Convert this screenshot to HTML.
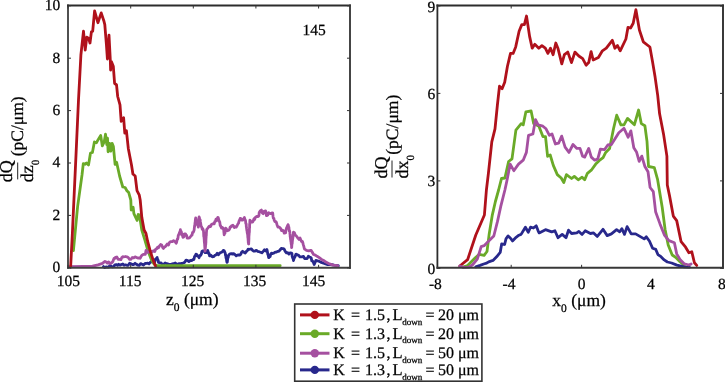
<!DOCTYPE html><html><head><meta charset="utf-8"><style>html,body{margin:0;padding:0;background:#fff;width:725px;height:382px;overflow:hidden}svg{display:block;will-change:transform}text{font-family:"Liberation Serif",serif;fill:#000;stroke:#000;stroke-width:0.25px;text-rendering:geometricPrecision}</style></head><body>
<svg width="725" height="382" viewBox="0 0 725 382">
<path d="M103.5,266.6 L104.8,267.6 L106.0,266.9 L107.3,267.2 L108.6,267.2 L109.8,265.5 L111.1,266.1 L112.4,266.9 L113.7,266.6 L114.9,264.8 L116.2,264.6 L117.5,265.3 L118.7,264.3 L120.0,265.2 L121.4,264.5 L122.8,264.0 L124.1,265.3 L125.5,264.8 L126.9,265.3 L128.2,265.3 L129.6,263.3 L131.0,263.9 L132.4,264.5 L133.8,264.5 L135.1,263.3 L136.5,264.3 L137.9,265.2 L139.2,265.4 L140.6,263.6 L142.0,264.3 L143.5,265.1 L145.1,263.5 L146.6,263.4 L147.8,263.1 L149.0,264.0 L150.2,262.5 L152.1,261.1 L153.9,262.5 L154.7,262.0 L155.5,259.2 L156.3,258.6 L157.1,257.5 L157.4,258.8 L157.8,259.6 L158.2,260.5 L158.5,262.5 L160.0,262.8 L161.1,262.9 L162.3,264.5 L163.4,264.5 L165.1,262.9 L166.8,263.7 L168.5,264.2 L170.2,264.5 L171.9,264.0 L173.6,263.7 L175.3,262.9 L177.0,264.5 L178.7,263.7 L180.4,263.7 L182.1,263.5 L183.8,262.8 L184.9,262.0 L186.1,260.1 L187.2,260.3 L188.9,261.5 L190.6,260.3 L191.9,260.5 L193.2,259.4 L193.9,259.5 L194.6,256.4 L195.2,255.8 L195.9,254.2 L196.6,254.3 L197.4,256.1 L198.3,256.0 L199.1,257.7 L199.7,255.7 L200.2,255.2 L200.8,255.3 L201.4,253.9 L201.9,251.5 L202.5,250.9 L203.8,250.9 L205.1,252.6 L206.4,252.5 L207.7,250.4 L208.2,251.9 L208.6,253.6 L209.1,253.5 L209.6,255.9 L210.9,255.3 L212.3,256.8 L213.5,256.7 L214.8,255.4 L216.0,255.0 L217.2,253.3 L218.5,254.8 L219.7,253.1 L220.9,252.5 L222.1,252.0 L223.3,250.4 L224.2,250.8 L225.2,253.1 L225.5,255.3 L225.7,254.7 L226.0,257.9 L226.2,258.2 L226.5,259.3 L226.7,261.1 L227.0,262.3 L227.3,262.1 L227.6,259.3 L227.9,257.8 L228.2,257.5 L228.5,255.6 L228.8,255.0 L230.0,253.8 L231.3,253.6 L232.5,254.1 L233.7,253.6 L235.0,254.6 L236.2,255.9 L237.4,255.1 L238.6,254.8 L239.8,255.0 L240.7,254.4 L241.7,252.0 L242.6,251.3 L243.9,252.2 L245.3,253.1 L246.2,251.4 L247.2,250.9 L248.1,249.2 L249.0,249.5 L250.2,249.2 L251.4,248.9 L252.6,250.4 L253.9,251.2 L255.1,251.0 L256.4,250.3 L257.7,251.3 L259.1,251.7 L260.5,252.2 L261.9,252.8 L263.2,251.3 L264.4,249.8 L265.7,250.9 L266.9,249.5 L267.2,250.7 L267.5,252.2 L267.8,254.4 L268.1,254.7 L268.4,256.3 L268.7,257.7 L269.4,257.0 L270.1,256.6 L270.8,253.9 L271.5,253.1 L272.7,253.6 L274.0,253.0 L275.2,252.2 L276.4,252.2 L277.6,251.4 L278.8,251.3 L280.0,250.0 L281.3,248.4 L282.5,248.6 L283.4,248.6 L284.3,249.4 L285.2,251.3 L286.4,252.8 L287.7,252.6 L288.9,254.1 L290.2,252.8 L291.6,253.1 L291.9,253.3 L292.2,256.4 L292.6,257.7 L292.9,258.4 L293.2,258.7 L293.5,260.5 L294.0,258.6 L294.6,257.4 L295.1,256.6 L295.7,254.6 L296.2,254.1 L297.4,254.9 L298.7,255.3 L299.9,256.8 L301.8,256.8 L303.5,256.3 L304.7,258.6 L305.9,258.6 L307.1,258.6 L308.3,256.3 L309.5,257.0 L310.6,257.4 L311.2,258.0 L311.8,260.9 L312.4,261.0 L313.0,261.7 L313.6,263.0 L314.2,264.5 L315.9,260.4 L318.3,261.0 L320.6,262.1 L323.6,263.3 L327.1,264.5 L330.7,264.5 L334.2,265.1 L338.3,265.7" stroke="#28288c" stroke-width="2.8" fill="none" stroke-linejoin="round" stroke-linecap="round"/>
<path d="M73.4,250.5 L77.6,206.6 L82.0,175.0 L83.3,163.6 L85.2,164.3 L86.5,163.0 L88.5,164.9 L90.5,153.1 L92.4,152.5 L94.4,142.0 L96.4,142.7 L98.3,139.4 L100.7,135.5 L102.3,145.9 L104.2,142.0 L105.5,134.2 L106.8,144.6 L107.5,138.1 L108.1,151.8 L109.5,143.3 L110.8,151.2 L112.1,143.3 L113.4,146.6 L115.1,164.3 L116.6,162.3 L119.6,176.0 L122.8,187.0 L125.1,187.5 L126.9,190.7 L128.7,192.5 L129.7,196.2 L130.8,200.0 L131.2,210.0 L133.1,207.1 L133.9,213.7 L137.1,220.4 L138.2,214.5 L139.4,214.9 L141.8,230.0 L144.9,240.1 L148.2,251.6 L151.5,259.9 L154.2,264.3 L157.0,265.7 L280.2,265.7" stroke="#6aaa28" stroke-width="2.8" fill="none" stroke-linejoin="round" stroke-linecap="round"/>
<path d="M70.0,266.7 L83.3,266.4 L92.5,266.2 L98.0,264.8 L102.5,263.4 L103.7,262.4 L105.0,261.4 L106.2,262.0 L107.4,263.1 L108.7,261.9 L109.9,263.8 L111.2,263.0 L112.6,262.0 L113.3,260.4 L114.0,258.4 L114.7,258.6 L115.4,257.4 L116.8,257.0 L118.1,259.3 L119.5,259.3 L120.9,259.7 L121.8,257.5 L122.7,256.7 L123.6,257.0 L125.5,256.5 L126.8,256.8 L128.2,257.5 L129.6,259.4 L131.0,259.3 L132.3,257.5 L133.7,257.9 L135.1,256.9 L136.5,257.5 L137.8,258.1 L139.2,257.9 L140.1,258.3 L141.1,256.3 L142.0,255.2 L143.3,254.4 L144.7,254.2 L145.3,254.4 L146.0,250.4 L146.6,250.6 L147.9,252.4 L149.3,252.0 L150.7,251.4 L152.1,252.0 L153.4,250.7 L154.8,251.5 L155.8,249.0 L156.7,248.7 L157.6,247.2 L158.5,247.8 L159.4,246.0 L160.6,244.5 L161.7,245.0 L162.3,246.4 L162.8,247.7 L163.4,248.4 L164.3,247.2 L165.1,246.8 L166.0,245.8 L167.2,244.1 L168.5,245.0 L169.4,242.5 L170.2,241.9 L171.1,241.6 L172.3,241.7 L173.6,240.7 L174.5,241.3 L175.3,241.9 L176.2,243.3 L176.6,242.3 L176.9,240.7 L177.3,239.1 L177.6,239.3 L178.0,237.8 L178.3,235.2 L178.7,234.8 L179.1,233.7 L179.6,232.3 L180.0,232.1 L180.4,229.7 L180.8,231.7 L181.3,231.6 L181.7,234.9 L182.1,233.6 L182.6,235.8 L183.0,237.3 L183.8,236.9 L184.7,234.0 L185.5,233.9 L186.1,235.3 L186.6,235.4 L187.2,238.2 L188.3,238.1 L189.5,237.9 L190.6,236.5 L191.3,235.5 L192.0,235.2 L192.6,232.3 L193.3,232.3 L194.0,230.5 L194.2,229.5 L194.3,228.2 L194.5,226.6 L194.7,226.4 L194.8,225.5 L195.0,222.8 L195.2,222.1 L195.4,219.0 L195.5,219.7 L195.7,217.8 L196.0,219.4 L196.3,221.6 L196.7,222.3 L197.0,221.8 L197.3,223.3 L197.7,225.3 L198.0,224.5 L198.3,227.1 L198.4,225.7 L198.5,223.6 L198.6,222.1 L198.7,220.7 L198.8,221.5 L198.9,218.3 L199.0,217.4 L199.1,216.9 L199.4,217.8 L199.8,220.6 L200.1,219.5 L200.4,221.8 L200.7,223.4 L201.0,225.7 L201.4,226.8 L201.7,227.1 L202.3,229.3 L202.8,228.7 L203.4,230.5 L203.5,231.4 L203.6,232.5 L203.7,235.3 L203.8,236.7 L203.9,235.5 L204.0,236.7 L204.1,238.1 L204.2,239.3 L204.3,241.3 L204.4,242.8 L204.5,243.0 L204.6,243.4 L204.7,245.9 L204.8,246.9 L204.9,248.7 L205.0,251.1 L205.1,250.9 L205.2,250.3 L205.3,248.5 L205.4,247.7 L205.5,246.6 L205.6,243.6 L205.7,244.9 L205.8,243.3 L205.9,242.4 L205.9,241.0 L206.0,238.6 L206.1,237.4 L206.2,235.3 L206.3,235.7 L206.4,232.8 L206.5,231.6 L206.6,230.8 L206.7,229.5 L206.8,229.3 L208.0,227.9 L209.3,226.2 L210.5,226.6 L211.7,224.2 L213.0,223.7 L214.2,223.8 L214.8,221.5 L215.4,221.3 L216.0,219.2 L216.6,220.7 L217.2,218.8 L217.8,217.4 L218.2,217.5 L218.6,219.0 L219.0,220.5 L219.4,221.7 L219.8,222.2 L220.2,225.6 L220.6,225.7 L221.5,228.1 L222.4,227.4 L223.3,228.4 L223.5,229.6 L223.7,229.7 L223.8,231.0 L224.0,233.0 L224.2,234.8 L224.6,232.8 L225.0,233.2 L225.3,229.9 L225.7,228.2 L226.1,228.4 L227.4,230.7 L228.8,230.2 L229.5,229.2 L230.2,226.9 L230.9,227.0 L231.6,225.7 L232.9,225.2 L234.3,227.5 L235.2,226.7 L236.2,227.1 L237.1,225.8 L238.0,223.8 L238.5,223.3 L239.1,220.9 L239.6,220.1 L240.2,218.4 L240.7,218.3 L241.6,220.1 L242.6,220.2 L243.5,218.9 L244.4,217.4 L244.8,219.5 L245.1,219.4 L245.5,220.4 L245.8,223.5 L246.2,223.8 L246.3,226.5 L246.5,227.4 L246.6,228.5 L246.8,229.8 L246.9,230.8 L247.1,230.6 L247.2,232.7 L247.4,233.5 L247.5,233.7 L247.7,235.0 L247.8,237.0 L248.0,238.2 L248.2,240.8 L248.3,242.8 L248.4,242.6 L248.6,244.0 L248.7,244.1 L248.7,243.0 L248.8,241.6 L248.9,238.6 L248.9,236.9 L249.0,235.7 L249.1,234.3 L249.1,233.1 L249.2,233.1 L249.3,232.7 L249.4,231.2 L249.4,228.9 L249.5,228.2 L249.6,227.4 L249.6,224.0 L249.7,224.4 L249.8,223.9 L249.8,222.3 L249.9,220.2 L251.2,221.9 L252.6,222.0 L253.3,220.8 L254.0,218.7 L254.7,219.4 L255.4,217.4 L256.8,216.4 L258.1,216.5 L258.5,216.3 L258.9,215.6 L259.2,212.7 L259.6,211.9 L260.5,210.7 L261.4,210.1 L262.0,212.6 L262.6,213.2 L263.2,213.7 L264.1,211.4 L265.1,211.0 L265.6,211.0 L266.0,212.3 L266.4,215.7 L266.9,215.6 L267.8,215.1 L268.7,212.8 L270.6,213.7 L272.4,212.8 L272.7,213.0 L273.0,216.2 L273.3,217.9 L273.6,218.2 L273.9,218.5 L274.2,220.2 L274.9,221.5 L275.6,221.3 L276.3,222.1 L277.0,224.7 L277.9,227.0 L278.8,227.0 L279.7,227.5 L280.6,228.5 L281.6,230.6 L282.5,230.2 L283.4,230.9 L284.3,233.2 L285.2,233.0 L285.6,232.8 L286.0,229.8 L286.4,228.7 L286.8,227.6 L287.2,226.3 L287.6,226.1 L288.0,224.7 L288.3,225.2 L288.6,226.9 L288.9,227.3 L289.2,230.9 L289.5,230.4 L289.8,232.1 L289.9,233.2 L290.1,234.7 L290.2,236.9 L290.4,236.6 L290.5,239.3 L290.6,239.3 L290.8,240.5 L290.9,241.7 L291.0,241.4 L291.2,243.8 L291.3,244.3 L291.5,244.9 L291.6,247.6 L291.7,247.3 L291.9,244.2 L292.0,243.9 L292.2,243.5 L292.3,241.8 L292.5,239.9 L292.6,239.3 L292.8,238.2 L292.9,237.7 L293.1,234.5 L293.2,234.7 L293.4,232.5 L293.5,232.1 L294.4,232.6 L295.3,235.3 L296.2,235.7 L297.1,237.0 L298.1,238.4 L299.0,239.4 L300.0,238.0 L300.8,239.9 L301.6,241.6 L302.4,241.5 L302.8,242.6 L303.2,244.4 L303.5,245.4 L303.9,246.7 L304.3,248.5 L304.7,249.2 L306.5,250.4 L308.8,250.9 L310.0,250.5 L311.2,250.4 L312.0,251.9 L312.8,253.1 L313.6,254.5 L315.3,255.1 L317.1,256.3 L318.9,257.4 L321.2,259.2 L323.6,260.4 L325.9,262.1 L329.5,263.9 L333.0,265.1 L337.7,265.7" stroke="#a550a0" stroke-width="2.8" fill="none" stroke-linejoin="round" stroke-linecap="round"/>
<path d="M70.6,267.3 L72.3,235.0 L76.0,155.0 L78.5,100.0 L80.9,55.0 L83.5,31.2 L85.2,50.2 L86.8,37.1 L88.7,38.4 L90.0,43.0 L91.4,31.8 L92.7,31.2 L94.6,10.9 L97.9,22.7 L101.2,12.9 L103.8,20.7 L104.8,24.6 L106.4,44.3 L107.4,59.0 L109.0,35.1 L110.3,60.0 L110.6,70.0 L111.4,61.6 L113.3,66.2 L114.6,83.5 L116.5,84.7 L117.7,96.5 L120.0,104.8 L121.2,121.3 L123.6,117.7 L124.8,133.1 L126.4,130.7 L128.3,148.4 L131.5,165.0 L132.9,174.0 L135.2,176.0 L137.0,190.7 L139.3,195.2 L140.2,200.0 L141.8,217.3 L144.1,230.0 L146.0,233.5 L147.6,241.2 L150.4,251.6 L153.1,259.9 L154.8,264.3 L155.5,266.0" stroke="#b0111b" stroke-width="2.8" fill="none" stroke-linejoin="round" stroke-linecap="round"/>
<path d="M459.8,266.0 L467.6,259.7 L475.8,235.0 L484.4,215.0 L486.4,190.0 L488.4,173.3 L491.8,141.9 L495.0,128.8 L497.4,105.0 L499.5,86.2 L502.1,88.8 L504.7,82.2 L507.4,66.5 L510.5,53.4 L513.1,53.4 L515.7,46.9 L519.1,31.2 L521.8,24.6 L524.4,24.6 L526.5,16.0 L529.6,36.4 L532.2,48.2 L534.8,44.3 L538.8,48.2 L541.9,45.6 L545.3,48.2 L547.9,53.4 L550.5,48.2 L553.1,54.7 L555.8,43.0 L557.9,48.2 L561.8,63.9 L564.4,54.7 L567.8,52.1 L571.5,62.6 L574.9,52.1 L578.8,56.0 L582.7,58.7 L586.1,65.2 L588.7,62.6 L591.1,51.6 L593.2,60.0 L598.4,57.4 L602.4,50.8 L606.3,48.2 L612.3,40.3 L614.9,48.2 L617.5,45.6 L620.2,50.8 L625.9,39.0 L628.0,27.3 L630.6,28.0 L633.2,23.3 L635.9,9.7 L639.4,30.0 L643.3,41.8 L649.9,47.0 L652.5,61.4 L655.1,77.1 L657.7,95.4 L659.6,113.8 L663.7,135.1 L666.9,156.1 L667.3,185.0 L669.6,196.1 L673.3,216.1 L676.7,220.6 L681.1,241.7 L685.6,247.2 L688.9,252.8 L691.8,251.7 L694.4,262.8 L696.7,265.4" stroke="#b0111b" stroke-width="2.8" fill="none" stroke-linejoin="round" stroke-linecap="round"/>
<path d="M463.0,267.0 L467.6,265.5 L475.3,257.8 L479.2,254.4 L484.1,255.3 L487.0,251.5 L489.2,233.9 L492.3,215.1 L495.4,201.5 L498.6,190.0 L501.5,178.5 L504.9,178.0 L508.6,161.5 L512.0,158.9 L515.9,130.1 L521.2,123.6 L523.2,124.9 L525.9,111.8 L531.1,111.0 L533.7,123.6 L538.9,126.2 L542.9,136.6 L545.5,136.6 L547.6,156.3 L550.2,155.0 L553.3,165.4 L557.3,174.6 L561.2,178.0 L563.8,182.5 L566.4,174.6 L571.6,178.5 L574.3,176.4 L578.2,179.8 L582.1,177.2 L584.7,179.8 L587.4,173.3 L591.3,170.2 L595.7,164.1 L599.1,160.7 L603.1,157.6 L605.7,152.4 L609.6,148.4 L613.5,128.8 L616.7,115.2 L620.9,124.9 L624.0,124.9 L627.5,118.4 L634.4,124.7 L638.6,110.0 L641.3,123.6 L644.9,125.7 L647.0,141.4 L648.5,166.5 L654.3,167.6 L657.5,179.1 L662.2,207.2 L665.1,229.4 L668.2,245.0 L672.2,255.0 L675.6,257.2 L680.0,261.7 L684.4,265.4" stroke="#6aaa28" stroke-width="2.8" fill="none" stroke-linejoin="round" stroke-linecap="round"/>
<path d="M475.8,266.8 L480.1,265.4 L483.7,264.0 L486.6,263.2 L488.7,261.8 L493.0,260.4 L496.6,256.8 L500.2,252.4 L501.7,243.8 L504.6,244.5 L506.0,238.8 L508.1,235.9 L510.3,238.0 L512.5,240.9 L516.1,237.3 L518.9,235.2 L521.1,234.4 L525.4,227.2 L528.3,232.3 L530.5,227.2 L533.4,228.0 L536.2,225.8 L538.4,231.6 L539.2,232.9 L545.5,229.7 L551.7,231.8 L554.9,230.8 L558.0,237.7 L562.2,234.4 L566.0,237.7 L568.5,230.2 L571.6,233.5 L576.8,232.9 L578.9,231.4 L582.1,234.4 L585.2,230.8 L590.4,233.5 L593.6,232.9 L597.3,236.4 L603.0,229.3 L607.2,235.6 L611.4,233.9 L616.6,229.7 L619.7,231.8 L621.8,228.7 L624.5,234.4 L627.1,226.6 L631.2,233.9 L635.6,233.9 L644.2,238.9 L646.3,236.8 L649.4,241.0 L652.6,248.3 L655.8,249.4 L657.9,254.6 L661.0,256.7 L664.2,259.9 L667.4,262.0 L671.6,263.0 L676.9,265.1 L684.2,266.8 L689.4,267.2" stroke="#28288c" stroke-width="2.8" fill="none" stroke-linejoin="round" stroke-linecap="round"/>
<path d="M459.8,266.0 L463.7,267.4 L468.6,267.2 L472.4,265.0 L477.3,259.2 L481.2,246.6 L484.1,245.7 L488.0,241.8 L493.8,236.0 L497.5,221.4 L500.7,206.7 L504.9,190.0 L506.8,181.2 L510.2,164.1 L513.8,170.7 L518.5,164.1 L523.2,160.2 L526.4,152.4 L528.5,135.3 L532.9,134.0 L535.5,119.6 L538.1,124.9 L542.9,126.2 L546.0,128.8 L549.4,135.3 L552.0,134.0 L555.4,144.0 L558.6,143.2 L561.7,136.1 L565.1,147.1 L569.0,152.4 L573.0,144.5 L576.9,148.4 L580.0,148.4 L582.6,156.3 L584.7,157.1 L588.7,148.4 L591.3,157.1 L594.7,160.2 L597.8,158.9 L600.4,149.2 L604.4,149.7 L607.8,145.0 L611.4,144.5 L618.8,132.7 L624.0,128.3 L628.1,137.2 L630.9,130.9 L633.8,147.7 L636.5,151.9 L639.2,161.3 L641.8,156.1 L644.9,166.5 L648.0,171.8 L650.1,187.5 L653.3,191.7 L655.6,211.7 L660.0,223.9 L664.4,235.0 L668.9,240.6 L674.4,242.8 L676.7,253.9 L680.0,259.4 L684.4,263.9 L688.9,265.0 L691.1,263.9" stroke="#a550a0" stroke-width="2.8" fill="none" stroke-linejoin="round" stroke-linecap="round"/>
<line x1="68" y1="5.5" x2="68" y2="267.8" stroke="#484848" stroke-width="1.9" stroke-linecap="square"/>
<line x1="68" y1="5.5" x2="350" y2="5.5" stroke="#2c2c2c" stroke-width="1.9" stroke-linecap="square"/>
<line x1="350" y1="5.5" x2="350" y2="267.8" stroke="#3c3c3c" stroke-width="1.9" stroke-linecap="square"/>
<line x1="68" y1="267.8" x2="350" y2="267.8" stroke="#404040" stroke-width="1.9" stroke-linecap="square"/>
<line x1="437.4" y1="5.5" x2="437.4" y2="267.8" stroke="#2c2c2c" stroke-width="1.8" stroke-linecap="square"/>
<line x1="437.4" y1="5.5" x2="723" y2="5.5" stroke="#2c2c2c" stroke-width="1.9" stroke-linecap="square"/>
<line x1="723" y1="5.5" x2="723" y2="267.8" stroke="#303030" stroke-width="1.9" stroke-linecap="square"/>
<line x1="437.4" y1="267.8" x2="723" y2="267.8" stroke="#383838" stroke-width="1.9" stroke-linecap="square"/>
<path d="M68.0,267.8v-3M68.0,5.5v3M130.7,267.8v-3M130.7,5.5v3M193.3,267.8v-3M193.3,5.5v3M255.9,267.8v-3M255.9,5.5v3M318.6,267.8v-3M318.6,5.5v3M68,267.8h3M350,267.8h-3M68,215.4h3M350,215.4h-3M68,163.0h3M350,163.0h-3M68,110.6h3M350,110.6h-3M68,58.2h3M350,58.2h-3M68,5.8h3M350,5.8h-3M511.2,267.8v-3M511.2,5.5v3M581.6,267.8v-3M581.6,5.5v3M437.4,268.3h3M723,268.3h-3M437.4,180.9h3M723,180.9h-3M437.4,93.4h3M723,93.4h-3M437.4,6.0h3M723,6.0h-3" stroke="#333" stroke-width="1" fill="none"/>
<text x="60.3" y="272.2" font-size="15.5" text-anchor="end">0</text>
<text x="60.3" y="219.8" font-size="15.5" text-anchor="end">2</text>
<text x="60.3" y="167.4" font-size="15.5" text-anchor="end">4</text>
<text x="60.3" y="115.0" font-size="15.5" text-anchor="end">6</text>
<text x="60.3" y="62.6" font-size="15.5" text-anchor="end">8</text>
<text x="60.3" y="10.2" font-size="15.5" text-anchor="end">10</text>
<text x="68.3" y="285.7" font-size="15.5" text-anchor="middle">105</text>
<text x="130.2" y="285.7" font-size="15.5" text-anchor="middle">115</text>
<text x="192.6" y="285.7" font-size="15.5" text-anchor="middle">125</text>
<text x="254.7" y="285.7" font-size="15.5" text-anchor="middle">135</text>
<text x="313.7" y="285.7" font-size="15.5" text-anchor="middle">145</text>
<text x="435.2" y="273.7" font-size="15.5" text-anchor="end">0</text>
<text x="435.2" y="186.3" font-size="15.5" text-anchor="end">3</text>
<text x="435.2" y="98.9" font-size="15.5" text-anchor="end">6</text>
<text x="435.2" y="11.5" font-size="15.5" text-anchor="end">9</text>
<text x="435.4" y="288.8" font-size="15.5" text-anchor="middle">-8</text>
<text x="509" y="288.8" font-size="15.5" text-anchor="middle">-4</text>
<text x="581.5" y="288.8" font-size="15.5" text-anchor="middle">0</text>
<text x="650.9" y="288.8" font-size="15.5" text-anchor="middle">4</text>
<text x="721.9" y="288.8" font-size="15.5" text-anchor="middle">8</text>
<text x="302.6" y="34.8" font-size="15.5">145</text>
<text x="166" y="304.5" font-size="17.5">z<tspan font-size="11.5" dy="6">0</tspan><tspan dy="-6"> (μm)</tspan></text>
<text x="552.3" y="305.9" font-size="17.5">x<tspan font-size="11.5" dy="6">0</tspan><tspan dy="-6"> (μm)</tspan></text>
<g transform="translate(17.7,182.3) rotate(-90)"><text x="0" y="-5.8" font-size="18">dQ</text><line x1="2.9" y1="0" x2="19.8" y2="0" stroke="#222" stroke-width="1"/><text x="0" y="15.4" font-size="18">dz<tspan font-size="11" dy="6">0</tspan></text><text x="26" y="5.3" font-size="17.5">(pC/μm)</text></g>
<g transform="translate(392,178.4) rotate(-90)"><text x="0" y="-5.1" font-size="18">dQ</text><line x1="0.9" y1="0" x2="17.9" y2="0" stroke="#222" stroke-width="1"/><text x="0" y="15.5" font-size="18">dx<tspan font-size="11" dy="6">0</tspan></text><text x="23.7" y="6.3" font-size="17.5">(pC/μm)</text></g>
<rect x="294.7" y="304" width="187.2" height="77.2" fill="none" stroke="#333" stroke-width="1.6"/>
<path d="M300,314.9H329.5" stroke="#b0111b" stroke-width="3"/><circle cx="314.8" cy="314.9" r="4.2" fill="#b0111b"/>
<text x="333.3" y="319.8" font-size="16">K</text>
<text x="351" y="319.8" font-size="16">=</text>
<text x="365" y="319.8" font-size="16">1.5</text>
<text x="386.6" y="319.8" font-size="16">,</text>
<text x="392.6" y="319.8" font-size="16.5">L</text>
<text x="402.3" y="324.6" font-size="9">down</text>
<text x="425.5" y="319.8" font-size="16">=</text>
<text x="438" y="319.8" font-size="16">20 μm</text>
<path d="M300,333.7H329.5" stroke="#6aaa28" stroke-width="3"/><circle cx="314.8" cy="333.7" r="4.2" fill="#6aaa28"/>
<text x="333.3" y="338.6" font-size="16">K</text>
<text x="351" y="338.6" font-size="16">=</text>
<text x="365" y="338.6" font-size="16">1.3</text>
<text x="386.6" y="338.6" font-size="16">,</text>
<text x="392.6" y="338.6" font-size="16.5">L</text>
<text x="402.3" y="343.4" font-size="9">down</text>
<text x="425.5" y="338.6" font-size="16">=</text>
<text x="438" y="338.6" font-size="16">20 μm</text>
<path d="M300,353.2H329.5" stroke="#a550a0" stroke-width="3"/><circle cx="314.8" cy="353.2" r="4.2" fill="#a550a0"/>
<text x="333.3" y="358.1" font-size="16">K</text>
<text x="351" y="358.1" font-size="16">=</text>
<text x="365" y="358.1" font-size="16">1.5</text>
<text x="386.6" y="358.1" font-size="16">,</text>
<text x="392.6" y="358.1" font-size="16.5">L</text>
<text x="402.3" y="362.9" font-size="9">down</text>
<text x="425.5" y="358.1" font-size="16">=</text>
<text x="438" y="358.1" font-size="16">50 μm</text>
<path d="M300,369.9H329.5" stroke="#28288c" stroke-width="3"/><circle cx="314.8" cy="369.9" r="4.2" fill="#28288c"/>
<text x="333.3" y="374.8" font-size="16">K</text>
<text x="351" y="374.8" font-size="16">=</text>
<text x="365" y="374.8" font-size="16">1.3</text>
<text x="386.6" y="374.8" font-size="16">,</text>
<text x="392.6" y="374.8" font-size="16.5">L</text>
<text x="402.3" y="379.6" font-size="9">down</text>
<text x="425.5" y="374.8" font-size="16">=</text>
<text x="438" y="374.8" font-size="16">50 μm</text>
</svg></body></html>
